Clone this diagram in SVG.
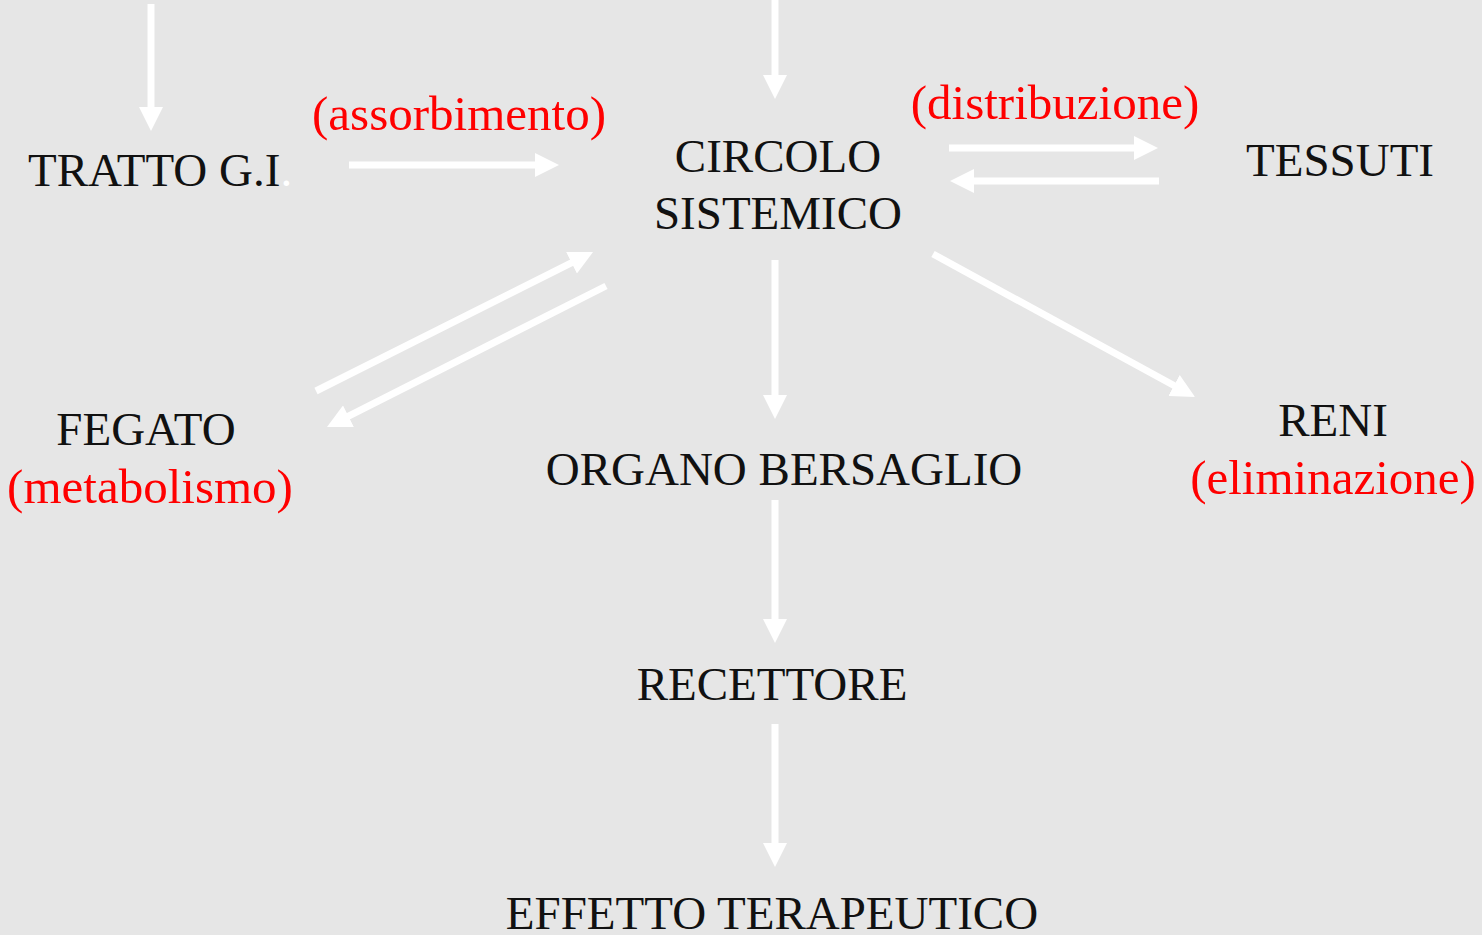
<svg xmlns="http://www.w3.org/2000/svg" width="1482" height="935" viewBox="0 0 1482 935">
<style>
.t{font-family:"Liberation Serif","Times New Roman",serif;font-size:47px;fill:#111}
.r{font-family:"Liberation Serif","Times New Roman",serif;font-size:49px;fill:#ff0000}
.c{text-anchor:middle}
.a{stroke:#ffffff;stroke-width:7;fill:none;marker-end:url(#ah)}
</style>
<defs>
<marker id="ah" markerUnits="userSpaceOnUse" markerWidth="24" markerHeight="24" viewBox="0 0 24 24" refX="12" refY="12" orient="auto">
<path d="M0,0 L24,12 L0,24 Z" fill="#ffffff"/>
</marker>
</defs>
<rect x="0" y="0" width="1482" height="935" fill="#e6e6e6"/>
<g id="connectors">
<line class="a" x1="151" y1="4" x2="151" y2="119"/>
<line class="a" x1="775" y1="0" x2="775" y2="87"/>
<line class="a" x1="349" y1="165" x2="547" y2="165"/>
<line class="a" x1="949" y1="148" x2="1146" y2="148"/>
<line class="a" x1="1159" y1="181" x2="962" y2="181"/>
<line class="a" x1="316" y1="391" x2="582.3" y2="257.4"/>
<line class="a" x1="606" y1="286" x2="337.7" y2="421.6"/>
<line class="a" x1="933" y1="254" x2="1184.5" y2="391.3"/>
<line class="a" x1="775" y1="260" x2="775" y2="407"/>
<line class="a" x1="775" y1="500" x2="775" y2="631"/>
<line class="a" x1="775" y1="724" x2="775" y2="855"/>
</g>
<g id="tratto"><text class="t" x="28" y="186">TRATTO G.I<tspan fill="#ffffff">.</tspan></text></g>
<g id="assorbimento"><text class="r c" x="459" y="130">(assorbimento)</text></g>
<g id="circolo"><text class="t c" x="778" y="172">CIRCOLO</text><text class="t c" x="778" y="229">SISTEMICO</text></g>
<g id="distribuzione"><text class="r c" x="1055" y="119">(distribuzione)</text></g>
<g id="tessuti"><text class="t c" x="1340" y="176">TESSUTI</text></g>
<g id="fegato"><text class="t c" x="146" y="445">FEGATO</text><text class="r c" x="150" y="503">(metabolismo)</text></g>
<g id="organo"><text class="t c" x="784" y="485">ORGANO BERSAGLIO</text></g>
<g id="reni"><text class="t c" x="1333" y="436">RENI</text><text class="r c" x="1333" y="494">(eliminazione)</text></g>
<g id="recettore"><text class="t c" x="772" y="700">RECETTORE</text></g>
<g id="effetto"><text class="t c" x="772" y="929">EFFETTO TERAPEUTICO</text></g>
</svg>
